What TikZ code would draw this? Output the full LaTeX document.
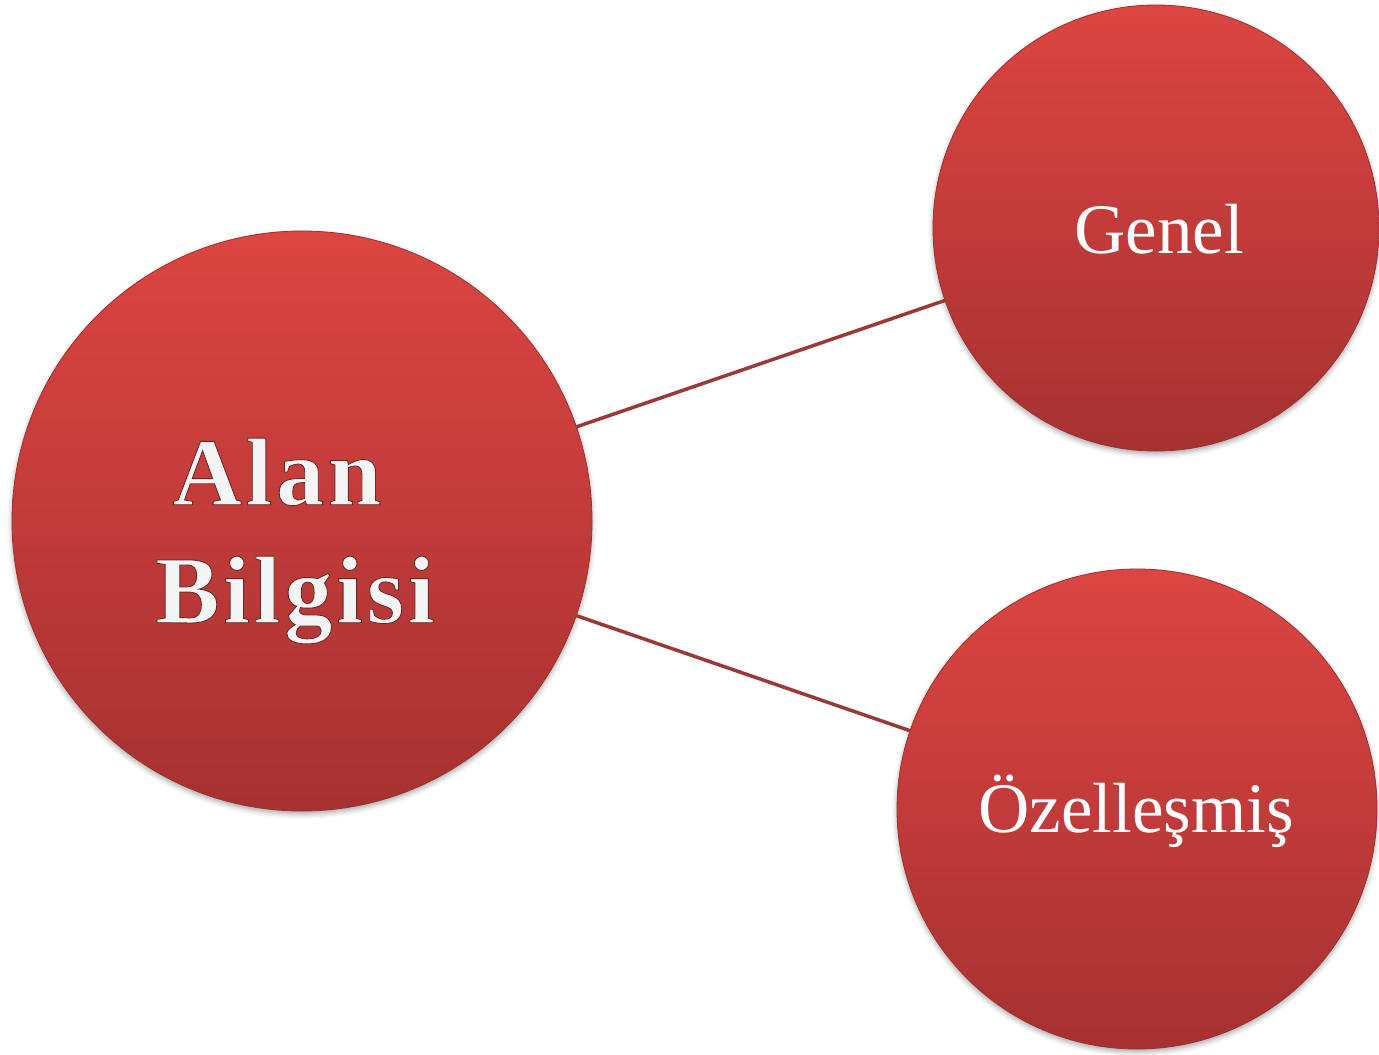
\documentclass[tikz,border=0pt]{standalone}
\usepackage{fontspec}
\setmainfont{Liberation Serif}
\usetikzlibrary{shadows.blur}
\definecolor{topred}{HTML}{DC4542}
\definecolor{botred}{HTML}{A63131}
\definecolor{rimred}{HTML}{9E2F2F}
\definecolor{linkred}{HTML}{9B3939}
\definecolor{embossgrey}{HTML}{F4F4F4}
\tikzset{
  bubble/.style={circle, inner sep=0pt, outer sep=0pt, top color=topred, bottom color=botred,
    draw=rimred, line width=0.8pt,
    blur shadow={shadow xshift=0pt, shadow yshift=-3pt, shadow blur radius=5pt, shadow opacity=35}},
  label/.style={text=white, font=\fontsize{71}{80}\selectfont},
  link/.style={draw=linkred, line width=3.5pt}
}
\newcommand{\outlined}[1]{\special{pdf:literal 2 Tr 0.9 w 0.42 0.16 0.16 RG}#1\special{pdf:literal 0 Tr}}
\begin{document}
\begin{tikzpicture}[x=1pt,y=-1pt]
  \useasboundingbox (0,0) rectangle (1379,1055);
  \node[bubble, minimum size=580pt] (alan) at (302,521) {};
  \node[bubble, minimum size=446pt] (genel) at (1156,228) {};
  \node[bubble, minimum size=480pt] (ozel) at (1137,809) {};
  \draw[link] (alan) -- (genel);
  \draw[link] (alan) -- (ozel);
  \node[label] (genelt) at (1159,229) {Genel};
  \node[label] (ozelt) at (1136,811) {Özelleşmiş};
  \node[text=embossgrey, align=center,
        font=\fontsize{96}{118}\selectfont\bfseries\addfontfeature{LetterSpace=4}]
        (alant) at (295,541) {\outlined{Alan}\hspace*{36pt}\\\outlined{Bilgisi}};
\end{tikzpicture}
\end{document}
